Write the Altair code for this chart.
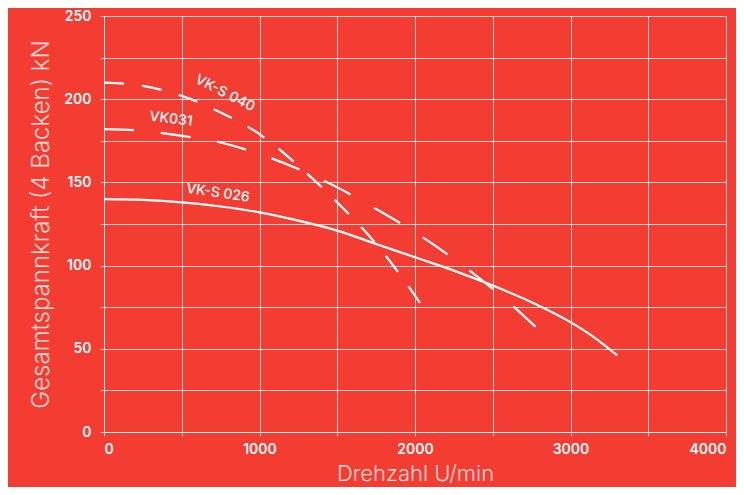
import altair as alt
import pandas as pd

# VK-S 026 (solid)
x026 = [0, 250, 500, 750, 1000, 1250, 1500, 1750, 2000, 2250, 2500, 2750, 3000, 3150, 3300]
y026 = [140, 139.5, 138, 135.5, 132, 127, 121, 113, 105, 97, 88, 78, 66, 57, 46]
# VK031 (long dashes)
x031 = [0, 250, 500, 750, 1000, 1250, 1500, 1750, 2000, 2250, 2500, 2650, 2800]
y031 = [182, 181, 178, 174, 167, 158, 147, 134, 120, 104, 86, 74, 61]
# VK-S 040 (dashes)
x040 = [0, 250, 500, 750, 1000, 1250, 1500, 1750, 2000, 2080]
y040 = [210, 208, 202, 192, 179, 160, 138, 113, 82, 71]

label_text = ["VK-S 040", "VK031", "VK-S 026"]
label_x = [778, 431, 733]
label_y = [203.5, 188, 143.5]
label_angle = [27, 7, 8]

x_ticks = [0, 500, 1000, 1500, 2000, 2500, 3000, 3500, 4000]
y_ticks = [0, 25, 50, 75, 100, 125, 150, 175, 200, 225, 250]

BG = "#f33c32"
FONT = "Inter"

df026 = pd.DataFrame({"x": x026, "y": y026})
df031 = pd.DataFrame({"x": x031, "y": y031})
df040 = pd.DataFrame({"x": x040, "y": y040})
dflab = pd.DataFrame({"t": label_text, "x": label_x, "y": label_y, "a": label_angle})

xs = alt.Scale(domain=[0, 4000], nice=False)
ys = alt.Scale(domain=[0, 250], nice=False)

xaxis = alt.Axis(values=x_ticks, labelExpr="datum.value % 1000 == 0 ? datum.label : ''",
                 format="d", title="Drehzahl U/min", titleFontSize=22, titlePadding=7)
yaxis = alt.Axis(values=y_ticks, labelExpr="datum.value % 50 == 0 ? datum.label : ''",
                 title="Gesamtspannkraft (4 Backen) kN", titleFontSize=24, titlePadding=10)

base_x = alt.X("x:Q", scale=xs, axis=xaxis)
base_y = alt.Y("y:Q", scale=ys, axis=yaxis)

l026 = alt.Chart(df026).mark_line(color="white", strokeWidth=2.2, interpolate="monotone").encode(x=base_x, y=base_y)
l031 = alt.Chart(df031).mark_line(color="white", strokeWidth=2.2, interpolate="monotone",
                                   strokeDash=[30, 27]).encode(x=base_x, y=base_y)
l040 = alt.Chart(df040).mark_line(color="white", strokeWidth=2.2, interpolate="monotone",
                                   strokeDash=[20, 18]).encode(x=base_x, y=base_y)

texts = alt.Chart(dflab).mark_text(color="white", fontSize=14, font=FONT, fontWeight=500).encode(
    x=alt.X("x:Q", scale=xs), y=alt.Y("y:Q", scale=ys), text="t:N", angle=alt.Angle("a:Q", scale=None))

chart = alt.layer(l026, l031, l040, texts).properties(
    width=622, height=416, background=BG,
    autosize=alt.AutoSizeParams(type="none"),
    padding={"left": 96, "top": 8, "right": 10, "bottom": 55},
).configure_view(stroke=None).configure_axis(
    grid=True, gridColor="white", gridOpacity=0.75, gridWidth=1,
    domainColor="white", domainOpacity=0.7, tickColor="white", tickOpacity=0.7, tickSize=4,
    labelColor="white", labelFont=FONT, labelFontSize=14, labelFontWeight=600,
    titleColor="#ffd9d6", titleFont=FONT, titleFontWeight=300,
).configure_axisY(labelPadding=9).configure_axisX(labelPadding=6)

chart.save("out.html", embed_options={"renderer": "svg", "actions": False})
